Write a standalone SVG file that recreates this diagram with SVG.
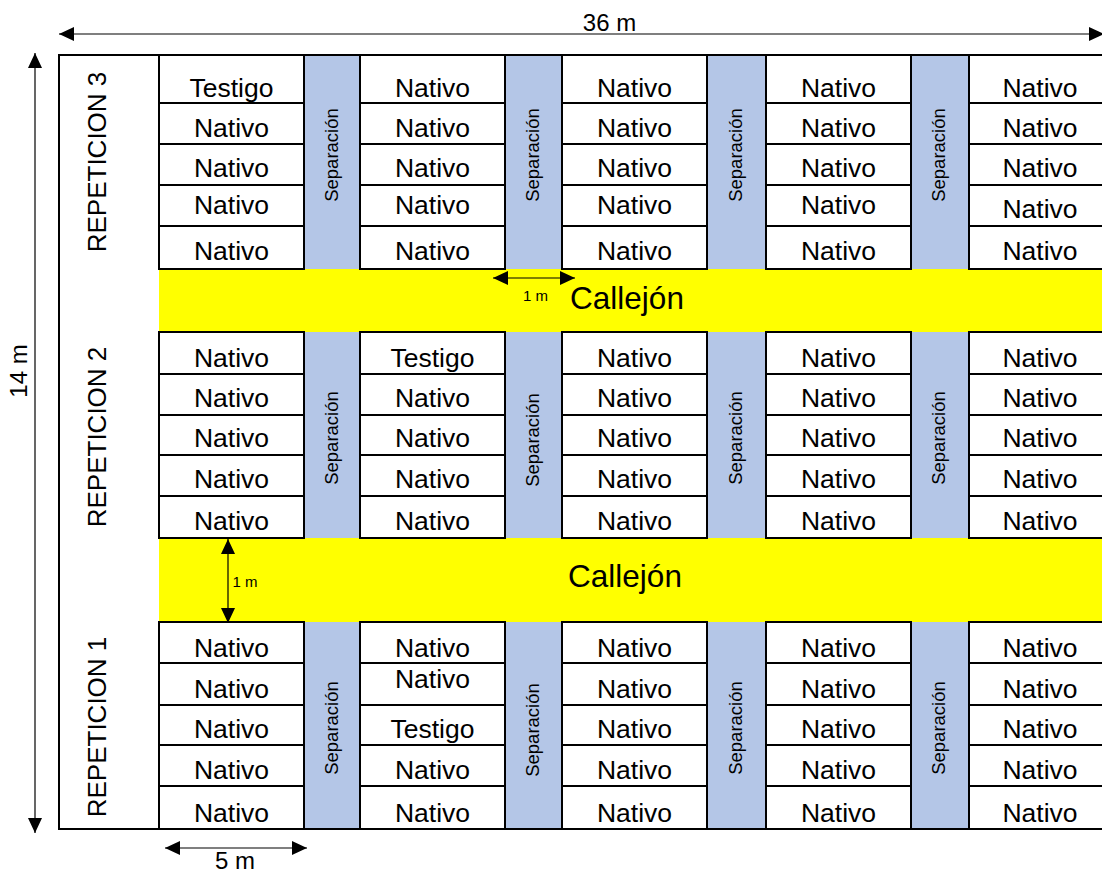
<svg xmlns="http://www.w3.org/2000/svg" width="1102" height="876" viewBox="0 0 1102 876">
<style>
  text { font-family: "Liberation Sans", Arial, sans-serif; fill: #000; }
  .cell rect { fill: #fff; stroke: #000; stroke-width: 2; }
  .cell text { font-size: 26.5px; text-anchor: middle; }
  .sep { fill: #B4C6E7; }
  .sep-label { font-size: 18.5px; text-anchor: middle; }
  .lane { fill: #FFFF00; }
  .lane-label { font-size: 31.5px; text-anchor: middle; }
  .rep-label { font-size: 26px; text-anchor: middle; }
  .dim { stroke: #000; stroke-width: 1.2; fill: none; marker-start: url(#ah); marker-end: url(#ah); }
  .dim-label { font-size: 24px; text-anchor: middle; }
  .small { font-size: 15px; text-anchor: middle; }
</style>
<defs>
  <marker id="ah" viewBox="0 0 15 14" refX="15" refY="7" markerWidth="15" markerHeight="14" markerUnits="userSpaceOnUse" orient="auto-start-reverse">
    <path d="M0,0 L15,7 L0,14 Z" fill="#000"/>
  </marker>
</defs>
<rect x="0" y="0" width="1102" height="876" fill="#fff"/>

<!-- field background -->
<rect x="59" y="55" width="1060" height="774" fill="#fff"/>

<!-- separation strips -->
<g id="separations">
  <rect class="sep" x="304" y="55" width="56" height="774"/>
  <rect class="sep" x="505" y="55" width="57" height="774"/>
  <rect class="sep" x="707" y="55" width="59" height="774"/>
  <rect class="sep" x="911" y="55" width="58" height="774"/>
</g>

<!-- alleys -->
<g id="callejon-1">
  <rect class="lane" x="159" y="269" width="950" height="63"/>
  <text class="lane-label" x="627" y="309">Callejón</text>
</g>
<g id="callejon-2">
  <rect class="lane" x="159" y="538" width="950" height="84"/>
  <text class="lane-label" x="625" y="587">Callejón</text>
</g>

<!-- separation labels -->
<g id="sep-labels">
  <text class="sep-label" transform="translate(338,155) rotate(-90)">Separación</text>
  <text class="sep-label" transform="translate(539,155) rotate(-90)">Separación</text>
  <text class="sep-label" transform="translate(742,155) rotate(-90)">Separación</text>
  <text class="sep-label" transform="translate(945,155) rotate(-90)">Separación</text>
  <text class="sep-label" transform="translate(338,438) rotate(-90)">Separación</text>
  <text class="sep-label" transform="translate(539,440) rotate(-90)">Separación</text>
  <text class="sep-label" transform="translate(742,438) rotate(-90)">Separación</text>
  <text class="sep-label" transform="translate(945,438) rotate(-90)">Separación</text>
  <text class="sep-label" transform="translate(338,728) rotate(-90)">Separación</text>
  <text class="sep-label" transform="translate(539,730) rotate(-90)">Separación</text>
  <text class="sep-label" transform="translate(742,728) rotate(-90)">Separación</text>
  <text class="sep-label" transform="translate(945,728) rotate(-90)">Separación</text>
</g>

<!-- REPETICION 3 -->
<g id="rep3">
  <g id="r3c1a" class="cell"><rect x="159" y="55" width="145" height="48"/><text x="231.5" y="97">Testigo</text></g>
  <g id="r3c1b" class="cell"><rect x="159" y="103" width="145" height="41"/><text x="231.5" y="137">Nativo</text></g>
  <g id="r3c1c" class="cell"><rect x="159" y="144" width="145" height="41"/><text x="231.5" y="177">Nativo</text></g>
  <g id="r3c1d" class="cell"><rect x="159" y="185" width="145" height="41"/><text x="231.5" y="214">Nativo</text></g>
  <g id="r3c1e" class="cell"><rect x="159" y="226" width="145" height="43"/><text x="231.5" y="260">Nativo</text></g>

  <g id="r3c2a" class="cell"><rect x="360" y="55" width="145" height="48"/><text x="432.5" y="97">Nativo</text></g>
  <g id="r3c2b" class="cell"><rect x="360" y="103" width="145" height="41"/><text x="432.5" y="137">Nativo</text></g>
  <g id="r3c2c" class="cell"><rect x="360" y="144" width="145" height="41"/><text x="432.5" y="177">Nativo</text></g>
  <g id="r3c2d" class="cell"><rect x="360" y="185" width="145" height="41"/><text x="432.5" y="214">Nativo</text></g>
  <g id="r3c2e" class="cell"><rect x="360" y="226" width="145" height="43"/><text x="432.5" y="260">Nativo</text></g>

  <g id="r3c3a" class="cell"><rect x="562" y="55" width="145" height="48"/><text x="634.5" y="97">Nativo</text></g>
  <g id="r3c3b" class="cell"><rect x="562" y="103" width="145" height="41"/><text x="634.5" y="137">Nativo</text></g>
  <g id="r3c3c" class="cell"><rect x="562" y="144" width="145" height="41"/><text x="634.5" y="177">Nativo</text></g>
  <g id="r3c3d" class="cell"><rect x="562" y="185" width="145" height="41"/><text x="634.5" y="214">Nativo</text></g>
  <g id="r3c3e" class="cell"><rect x="562" y="226" width="145" height="43"/><text x="634.5" y="260">Nativo</text></g>

  <g id="r3c4a" class="cell"><rect x="766" y="55" width="145" height="48"/><text x="838.5" y="97">Nativo</text></g>
  <g id="r3c4b" class="cell"><rect x="766" y="103" width="145" height="41"/><text x="838.5" y="137">Nativo</text></g>
  <g id="r3c4c" class="cell"><rect x="766" y="144" width="145" height="41"/><text x="838.5" y="177">Nativo</text></g>
  <g id="r3c4d" class="cell"><rect x="766" y="185" width="145" height="41"/><text x="838.5" y="214">Nativo</text></g>
  <g id="r3c4e" class="cell"><rect x="766" y="226" width="145" height="43"/><text x="838.5" y="260">Nativo</text></g>

  <g id="r3c5a" class="cell"><rect x="969" y="55" width="145" height="48"/><text x="1040" y="97">Nativo</text></g>
  <g id="r3c5b" class="cell"><rect x="969" y="103" width="145" height="41"/><text x="1040" y="137">Nativo</text></g>
  <g id="r3c5c" class="cell"><rect x="969" y="144" width="145" height="41"/><text x="1040" y="177">Nativo</text></g>
  <g id="r3c5d" class="cell"><rect x="969" y="185" width="145" height="41"/><text x="1040" y="218">Nativo</text></g>
  <g id="r3c5e" class="cell"><rect x="969" y="226" width="145" height="43"/><text x="1040" y="260">Nativo</text></g>
</g>

<!-- REPETICION 2 -->
<g id="rep2">
  <g id="r2c1a" class="cell"><rect x="159" y="332" width="145" height="42"/><text x="231.5" y="367">Nativo</text></g>
  <g id="r2c1b" class="cell"><rect x="159" y="374" width="145" height="41"/><text x="231.5" y="407">Nativo</text></g>
  <g id="r2c1c" class="cell"><rect x="159" y="415" width="145" height="40"/><text x="231.5" y="447">Nativo</text></g>
  <g id="r2c1d" class="cell"><rect x="159" y="455" width="145" height="41"/><text x="231.5" y="488">Nativo</text></g>
  <g id="r2c1e" class="cell"><rect x="159" y="496" width="145" height="42"/><text x="231.5" y="530">Nativo</text></g>

  <g id="r2c2a" class="cell"><rect x="360" y="332" width="145" height="42"/><text x="432.5" y="367">Testigo</text></g>
  <g id="r2c2b" class="cell"><rect x="360" y="374" width="145" height="41"/><text x="432.5" y="407">Nativo</text></g>
  <g id="r2c2c" class="cell"><rect x="360" y="415" width="145" height="40"/><text x="432.5" y="447">Nativo</text></g>
  <g id="r2c2d" class="cell"><rect x="360" y="455" width="145" height="41"/><text x="432.5" y="488">Nativo</text></g>
  <g id="r2c2e" class="cell"><rect x="360" y="496" width="145" height="42"/><text x="432.5" y="530">Nativo</text></g>

  <g id="r2c3a" class="cell"><rect x="562" y="332" width="145" height="42"/><text x="634.5" y="367">Nativo</text></g>
  <g id="r2c3b" class="cell"><rect x="562" y="374" width="145" height="41"/><text x="634.5" y="407">Nativo</text></g>
  <g id="r2c3c" class="cell"><rect x="562" y="415" width="145" height="40"/><text x="634.5" y="447">Nativo</text></g>
  <g id="r2c3d" class="cell"><rect x="562" y="455" width="145" height="41"/><text x="634.5" y="488">Nativo</text></g>
  <g id="r2c3e" class="cell"><rect x="562" y="496" width="145" height="42"/><text x="634.5" y="530">Nativo</text></g>

  <g id="r2c4a" class="cell"><rect x="766" y="332" width="145" height="42"/><text x="838.5" y="367">Nativo</text></g>
  <g id="r2c4b" class="cell"><rect x="766" y="374" width="145" height="41"/><text x="838.5" y="407">Nativo</text></g>
  <g id="r2c4c" class="cell"><rect x="766" y="415" width="145" height="40"/><text x="838.5" y="447">Nativo</text></g>
  <g id="r2c4d" class="cell"><rect x="766" y="455" width="145" height="41"/><text x="838.5" y="488">Nativo</text></g>
  <g id="r2c4e" class="cell"><rect x="766" y="496" width="145" height="42"/><text x="838.5" y="530">Nativo</text></g>

  <g id="r2c5a" class="cell"><rect x="969" y="332" width="145" height="42"/><text x="1040" y="367">Nativo</text></g>
  <g id="r2c5b" class="cell"><rect x="969" y="374" width="145" height="41"/><text x="1040" y="407">Nativo</text></g>
  <g id="r2c5c" class="cell"><rect x="969" y="415" width="145" height="40"/><text x="1040" y="447">Nativo</text></g>
  <g id="r2c5d" class="cell"><rect x="969" y="455" width="145" height="41"/><text x="1040" y="488">Nativo</text></g>
  <g id="r2c5e" class="cell"><rect x="969" y="496" width="145" height="42"/><text x="1040" y="530">Nativo</text></g>
</g>

<!-- REPETICION 1 -->
<g id="rep1">
  <g id="r1c1a" class="cell"><rect x="159" y="622" width="145" height="41"/><text x="231.5" y="657">Nativo</text></g>
  <g id="r1c1b" class="cell"><rect x="159" y="663" width="145" height="42"/><text x="231.5" y="698">Nativo</text></g>
  <g id="r1c1c" class="cell"><rect x="159" y="705" width="145" height="40"/><text x="231.5" y="738">Nativo</text></g>
  <g id="r1c1d" class="cell"><rect x="159" y="745" width="145" height="41"/><text x="231.5" y="779">Nativo</text></g>
  <g id="r1c1e" class="cell"><rect x="159" y="786" width="145" height="43"/><text x="231.5" y="822">Nativo</text></g>

  <g id="r1c2a" class="cell"><rect x="360" y="622" width="145" height="41"/><text x="432.5" y="657">Nativo</text></g>
  <g id="r1c2b" class="cell"><rect x="360" y="663" width="145" height="42"/><text x="432.5" y="688">Nativo</text></g>
  <g id="r1c2c" class="cell"><rect x="360" y="705" width="145" height="40"/><text x="432.5" y="738">Testigo</text></g>
  <g id="r1c2d" class="cell"><rect x="360" y="745" width="145" height="41"/><text x="432.5" y="779">Nativo</text></g>
  <g id="r1c2e" class="cell"><rect x="360" y="786" width="145" height="43"/><text x="432.5" y="822">Nativo</text></g>

  <g id="r1c3a" class="cell"><rect x="562" y="622" width="145" height="41"/><text x="634.5" y="657">Nativo</text></g>
  <g id="r1c3b" class="cell"><rect x="562" y="663" width="145" height="42"/><text x="634.5" y="698">Nativo</text></g>
  <g id="r1c3c" class="cell"><rect x="562" y="705" width="145" height="40"/><text x="634.5" y="738">Nativo</text></g>
  <g id="r1c3d" class="cell"><rect x="562" y="745" width="145" height="41"/><text x="634.5" y="779">Nativo</text></g>
  <g id="r1c3e" class="cell"><rect x="562" y="786" width="145" height="43"/><text x="634.5" y="822">Nativo</text></g>

  <g id="r1c4a" class="cell"><rect x="766" y="622" width="145" height="41"/><text x="838.5" y="657">Nativo</text></g>
  <g id="r1c4b" class="cell"><rect x="766" y="663" width="145" height="42"/><text x="838.5" y="698">Nativo</text></g>
  <g id="r1c4c" class="cell"><rect x="766" y="705" width="145" height="40"/><text x="838.5" y="738">Nativo</text></g>
  <g id="r1c4d" class="cell"><rect x="766" y="745" width="145" height="41"/><text x="838.5" y="779">Nativo</text></g>
  <g id="r1c4e" class="cell"><rect x="766" y="786" width="145" height="43"/><text x="838.5" y="822">Nativo</text></g>

  <g id="r1c5a" class="cell"><rect x="969" y="622" width="145" height="41"/><text x="1040" y="657">Nativo</text></g>
  <g id="r1c5b" class="cell"><rect x="969" y="663" width="145" height="42"/><text x="1040" y="698">Nativo</text></g>
  <g id="r1c5c" class="cell"><rect x="969" y="705" width="145" height="40"/><text x="1040" y="738">Nativo</text></g>
  <g id="r1c5d" class="cell"><rect x="969" y="745" width="145" height="41"/><text x="1040" y="779">Nativo</text></g>
  <g id="r1c5e" class="cell"><rect x="969" y="786" width="145" height="43"/><text x="1040" y="822">Nativo</text></g>
</g>

<!-- outer frame -->
<rect x="59" y="55" width="1060" height="774" fill="none" stroke="#000" stroke-width="2"/>

<!-- repetition labels -->
<g id="rep-labels">
  <text class="rep-label" transform="translate(106,162) rotate(-90)">REPETICION 3</text>
  <text class="rep-label" transform="translate(106,437) rotate(-90)">REPETICION 2</text>
  <text class="rep-label" transform="translate(106,727) rotate(-90)">REPETICION 1</text>
</g>

<!-- dimension lines -->
<g id="connectors">
  <line class="dim" x1="59" y1="34" x2="1104" y2="34"/>
  <line class="dim" x1="35" y1="53" x2="35" y2="833"/>
  <line class="dim" x1="165" y1="848" x2="307" y2="848"/>
  <line class="dim" x1="493" y1="278" x2="575" y2="278"/>
  <line class="dim" x1="228" y1="539" x2="228" y2="623"/>
</g>
<g id="dim-labels">
  <text class="dim-label" x="609.5" y="31">36 m</text>
  <text class="dim-label" transform="translate(27,371) rotate(-90)">14 m</text>
  <text class="dim-label" x="235" y="869">5 m</text>
  <text class="small" x="535.5" y="301">1 m</text>
  <text class="small" x="245" y="587">1 m</text>
</g>
</svg>
